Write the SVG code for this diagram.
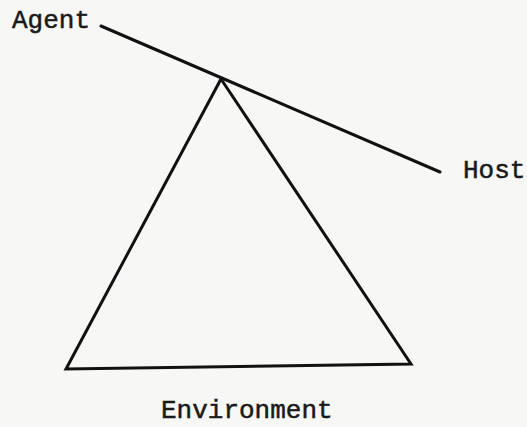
<svg xmlns="http://www.w3.org/2000/svg" width="527" height="427" viewBox="0 0 527 427">
<style>
.lbl{font-family:"Liberation Mono","Courier New",monospace;font-size:26px;fill:#1a1a1a;stroke:#1a1a1a;stroke-width:0.5}
.ln{fill:none;stroke:#111;stroke-width:3;stroke-linecap:round;stroke-linejoin:miter}
</style>
<rect width="527" height="427" fill="#f7f7f5"/>
<g id="connectors">
<line class="ln" x1="101" y1="26" x2="440" y2="172"/>
</g>
<g id="triangle">
<polygon class="ln" points="221,79 411,364 66,369"/>
</g>
<g id="agent"><text class="lbl" x="12" y="28">Agent</text></g>
<g id="host"><text class="lbl" x="463" y="178">Host</text></g>
<g id="environment"><text class="lbl" x="161" y="418">Environment</text></g>
</svg>
